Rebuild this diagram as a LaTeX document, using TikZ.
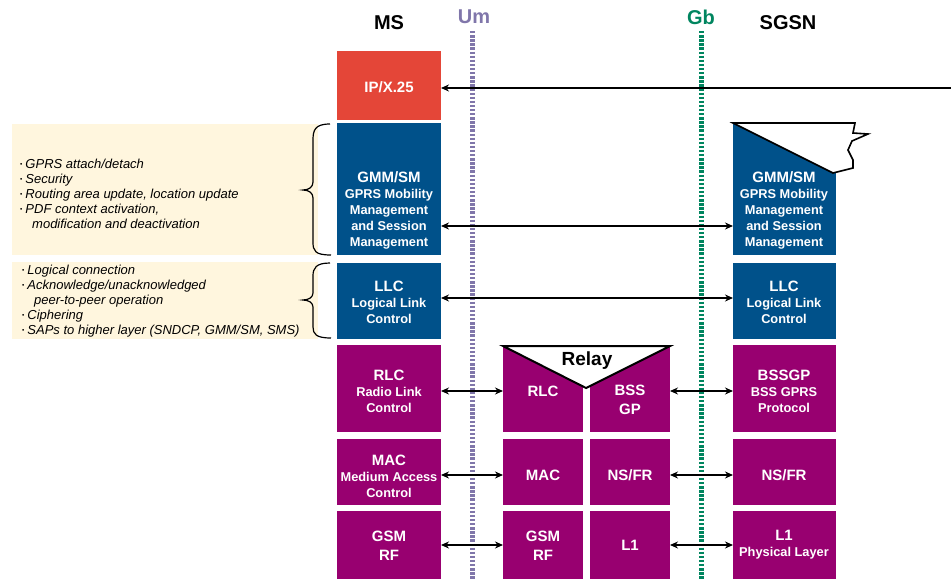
\documentclass[tikz,border=0pt]{standalone}
\usepackage{fontspec}
\setmainfont{Liberation Sans}
\usetikzlibrary{arrows.meta}
\definecolor{ipred}{RGB}{228,70,56}
\definecolor{gblue}{RGB}{0,81,138}
\definecolor{gpurple}{RGB}{152,0,112}
\definecolor{note}{RGB}{255,246,222}
\definecolor{umcol}{RGB}{128,118,170}
\definecolor{gbcol}{RGB}{0,133,95}
\newcommand\ttlf{\fontsize{15}{19}\selectfont\bfseries}
\newcommand\subf{\fontsize{12.8}{16}\selectfont\bfseries}
\newcommand\itf{\fontsize{13}{15}\selectfont\itshape}
\newcommand\bul{{\upshape\fontsize{6.5}{6.5}\selectfont\raisebox{1.8pt}{•}}\hspace{3pt}}
\tikzset{
  box/.style={anchor=north west, inner sep=0pt, outer sep=0pt, draw=none},
  lbl/.style={text=white, align=center, inner sep=0pt, font=\subf},
  hdr/.style={font=\fontsize{20}{20}\selectfont\bfseries, inner sep=0pt},
  arr/.style={{Stealth[length=8pt,width=7pt]}-{Stealth[length=8pt,width=7pt]}, line width=1.2pt},
  iface/.style={line width=5pt, dash pattern=on 2.4pt off 1.7pt},
  brace/.style={line width=1.2pt},
  notebox/.style={fill=note, draw=none},
  notetxt/.style={anchor=north west, align=left, inner sep=0pt, font=\itf}
}
\begin{document}
\begin{tikzpicture}[x=1pt,y=-1pt]
\useasboundingbox (0,0) rectangle (951,579);

% notes
\fill[notebox] (12,124) rectangle (318,255);
\fill[notebox] (12,262) rectangle (318,339);
\node[notetxt] (n1) at (20,159) {\bul GPRS attach/detach\\ \bul Security\\ \bul Routing area update, location update\\ \bul PDF context activation,\\ \hspace*{12pt}modification and deactivation};
\node[notetxt] (n2) at (22,265) {\bul Logical connection\\ \bul Acknowledge/unacknowledged\\ \hspace*{12pt}peer-to-peer operation\\ \bul Ciphering\\ \bul SAPs to higher layer (SNDCP, GMM/SM, SMS)};

% braces
\draw[brace] (330,124) .. controls (315,124) and (313,130) .. (313,140) -- (313,182) .. controls (313,187) and (309,190) .. (303,190) .. controls (309,190) and (313,193) .. (313,198) -- (313,242) .. controls (313,251) and (315,255) .. (331,255);
\draw[brace] (330,263) .. controls (316,263) and (313,268) .. (313,276) -- (313,293) .. controls (313,297) and (309,300) .. (303,300) .. controls (309,300) and (313,303) .. (313,307) -- (313,327) .. controls (313,334) and (316,338) .. (331,338);

% interface lines
\coordinate (umtop) at (472,31);
\coordinate (umbot) at (472,579);
\coordinate (gbtop) at (701,31);
\coordinate (gbbot) at (701,579);
\draw[iface, umcol] (umtop) -- (umbot);
\draw[iface, gbcol] (gbtop) -- (gbbot);

% headers
\node[hdr] (hms) at (389,23) {MS};
\node[hdr, text=umcol] (hum) at (474,17) {Um};
\node[hdr, text=gbcol] (hgb) at (701,17) {Gb};
\node[hdr] (hsgsn) at (788,23) {SGSN};

% MS column
\node[box, fill=ipred, minimum width=104pt, minimum height=69pt] (msip) at (337,51) {};
\node[box, fill=gblue, minimum width=104pt, minimum height=132pt] (msgmm) at (337,123) {};
\node[box, fill=gblue, minimum width=104pt, minimum height=76pt] (msllc) at (337,263) {};
\node[box, fill=gpurple, minimum width=104pt, minimum height=87pt] (msrlc) at (337,345) {};
\node[box, fill=gpurple, minimum width=104pt, minimum height=66pt] (msmac) at (337,439) {};
\node[box, fill=gpurple, minimum width=104pt, minimum height=68pt] (msrf) at (337,511) {};

% Relay column
\node[box, fill=gpurple, minimum width=80pt, minimum height=87pt] (rrlc) at (503,345) {};
\node[box, fill=gpurple, minimum width=80pt, minimum height=87pt] (rbss) at (590,345) {};
\node[box, fill=gpurple, minimum width=80pt, minimum height=66pt] (rmac) at (503,439) {};
\node[box, fill=gpurple, minimum width=80pt, minimum height=66pt] (rns) at (590,439) {};
\node[box, fill=gpurple, minimum width=80pt, minimum height=68pt] (rrf) at (503,511) {};
\node[box, fill=gpurple, minimum width=80pt, minimum height=68pt] (rl1) at (590,511) {};

% SGSN column
\node[box, fill=gblue, minimum width=103pt, minimum height=132pt] (sgmm) at (733,123) {};
\node[box, fill=gblue, minimum width=103pt, minimum height=76pt] (sllc) at (733,263) {};
\node[box, fill=gpurple, minimum width=103pt, minimum height=87pt] (sbss) at (733,345) {};
\node[box, fill=gpurple, minimum width=103pt, minimum height=66pt] (sns) at (733,439) {};
\node[box, fill=gpurple, minimum width=103pt, minimum height=68pt] (sl1) at (733,511) {};

% torn paper and relay triangle
\filldraw[fill=white, draw=black, line width=1.6pt, line join=miter] (733,123) -- (855,123) -- (853,133) -- (868,134) -- (852,141) -- (848,150) -- (853,160) -- (853,168) -- (833,173) -- cycle;
\filldraw[fill=white, draw=black, line width=2pt, line join=miter] (503,346) -- (670,346) -- (586,388) -- cycle;
\node[font=\fontsize{19}{19}\selectfont\bfseries, inner sep=0pt] (relay) at (587,361) {Relay};

% labels
\node[lbl, font=\ttlf] (tip) at (389,87) {IP/X.25};
\node[lbl] (tmsgmm) at (389,210) {{\ttlf GMM/SM}\\GPRS Mobility\\Management\\and Session\\Management};
\node[lbl] (tmsllc) at (389,302) {{\ttlf LLC}\\Logical Link\\Control};
\node[lbl] (tmsrlc) at (389,391) {{\ttlf RLC}\\Radio Link\\Control};
\node[lbl] (tmsmac) at (389,476) {{\ttlf MAC}\\Medium Access\\Control};
\node[lbl, font=\ttlf] (tmsrf) at (389,546) {GSM\\RF};
\node[lbl, font=\ttlf] (trrlc) at (543,391) {RLC};
\node[lbl, font=\ttlf] (trbss) at (630,400) {BSS\\GP};
\node[lbl, font=\ttlf] (trmac) at (543,475) {MAC};
\node[lbl, font=\ttlf] (trns) at (630,475) {NS/FR};
\node[lbl, font=\ttlf] (trrf) at (543,546) {GSM\\RF};
\node[lbl, font=\ttlf] (trl1) at (630,545) {L1};
\node[lbl] (tsgmm) at (784,210) {{\ttlf GMM/SM}\\GPRS Mobility\\Management\\and Session\\Management};
\node[lbl] (tsllc) at (784,302) {{\ttlf LLC}\\Logical Link\\Control};
\node[lbl] (tsbss) at (784,391) {{\ttlf BSSGP}\\BSS GPRS\\Protocol};
\node[lbl, font=\ttlf] (tsns) at (784,475) {NS/FR};
\node[lbl] (tsl1) at (784,545) {{\ttlf L1}\\Physical Layer};

% arrows
\coordinate (ipsrc) at (951,88);
\coordinate (yip) at (0,88);
\coordinate (ygmm) at (0,226);
\coordinate (yllc) at (0,298);
\coordinate (yrlc) at (0,391);
\coordinate (ymac) at (0,475);
\coordinate (yrf) at (0,545);
\draw[line width=1.2pt, {Stealth[length=8pt,width=7pt]}-] (msip.east |- yip) -- (ipsrc);
\draw[arr] (msgmm.east |- ygmm) -- (sgmm.west |- ygmm);
\draw[arr] (msllc.east |- yllc) -- (sllc.west |- yllc);
\draw[arr] (msrlc.east |- yrlc) -- (rrlc.west |- yrlc);
\draw[arr] (rbss.east |- yrlc) -- (sbss.west |- yrlc);
\draw[arr] (msmac.east |- ymac) -- (rmac.west |- ymac);
\draw[arr] (rns.east |- ymac) -- (sns.west |- ymac);
\draw[arr] (msrf.east |- yrf) -- (rrf.west |- yrf);
\draw[arr] (rl1.east |- yrf) -- (sl1.west |- yrf);
\end{tikzpicture}
\end{document}
